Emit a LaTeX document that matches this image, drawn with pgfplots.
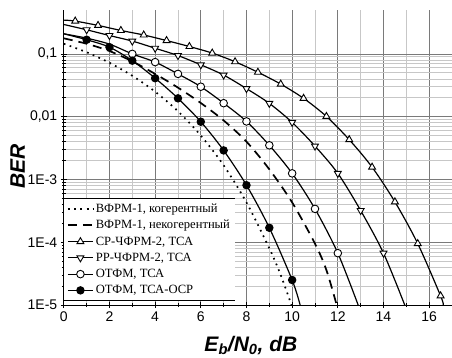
\documentclass[border=0pt]{standalone}
\usepackage{pgfplots}
\pgfplotsset{compat=1.18}
\usepackage{fontspec}
\setmainfont{Liberation Sans}
\newfontfamily\timesfont{Liberation Serif}
\begin{document}
\begin{tikzpicture}
\begin{axis}[
  scale only axis, width=388.2pt, height=295pt,
  xmin=0, xmax=17, ymode=log, ymin=1e-5, ymax=0.5,
  axis x line*=bottom, axis y line*=left,
  axis line style={-, black, line width=0.8pt},
  xtick={0,2,...,16}, minor x tick num=1,
  ytick={1e-5,1e-4,1e-3,1e-2,1e-1},
  yticklabels={1E-5,1E-4,1E-3,{0,01},{0,1}},
  grid=both,
  major grid style={black!52, line width=0.7pt},
  minor grid style={black!22, line width=0.7pt},
  tick style={black, line width=0.7pt},
  tick align=center,
  major tick length=6pt, minor tick length=4pt,
  ticklabel style={font=\fontsize{14}{16}\selectfont},
  /pgf/number format/assume math mode=true,
  xlabel={\textbf{\textit{E\textsubscript{b}/N\textsubscript{0}, dB}}},
  ylabel={\textbf{\textit{BER}}},
  xlabel style={font=\fontsize{21}{24}\selectfont, at={(rel axis cs:0.482,-0.156)}, anchor=base},
  ylabel style={font=\fontsize{21}{24}\selectfont, at={(rel axis cs:-0.119,0.47)}, anchor=center},
  legend style={at={(rel axis cs:0.0015,0.017)}, anchor=south west,
    font=\fontsize{12.6}{13}\selectfont\timesfont, draw=black, double, double distance=0.8pt, line width=0.4pt,
    fill=white, inner sep=2.5pt, row sep=2.4pt},
  legend cell align=left,
  legend image code/.code={\draw[mark repeat=2, mark phase=2, #1, mark indices={2}]
     plot coordinates {(0pt,0pt) (12.5pt,0pt) (25pt,0pt)};},
  every axis plot/.append style={line width=1.2pt, black},
]
% dotted: VFRM-1 coherent
\addplot[smooth, line width=1.7pt, dash pattern=on 1.7pt off 4.5pt] coordinates {
(0,0.1448) (1,0.1063) (2,0.0722) (3,0.0448) (4,0.0250) (5,0.0122) (6,0.0050)
(7,0.00168) (8,4.3e-4) (9,8.0e-5) (9.5,3.0e-5) (9.97,1e-5)};
\addlegendentry{ВФРМ-1, когерентный}
% dashed: VFRM-1 noncoherent
\addplot[smooth, line width=1.7pt, dash pattern=on 9pt off 6pt] coordinates {
(0,0.177) (1,0.145) (2,0.111) (3,0.076) (4,0.048) (5,0.029) (6,0.0165)
(7,0.0087) (8,0.0040) (9,0.00145) (10,4.3e-4) (11,9.5e-5) (11.5,3.6e-5) (11.95,1e-5)};
\addlegendentry{ВФРМ-1, некогерентный}
% triangle up: SR-ChFRM-2
\addplot[smooth, mark=triangle*, mark size=4pt, mark options={solid, fill=white, line width=0.9pt},
  mark indices={2,3,4,5,6,7,8,9,10,11,12,13,14,15,16,17,18}] coordinates {
(0,0.345) (0.5,0.333) (1.5,0.284) (2.5,0.236) (3.5,0.200) (4.5,0.163) (5.5,0.131)
(6.5,0.103) (7.5,0.075) (8.5,0.051) (9.5,0.033) (10.5,0.0196) (11.5,0.0101)
(12.5,0.0043) (13.5,0.00157) (14.5,4.4e-4) (15.5,9.5e-5) (16.5,1.4e-5) (16.62,1e-5)};
\addlegendentry{СР-ЧФРМ-2, ТСА}
% triangle down: RR-ChFRM-2
\addplot[smooth, mark=triangle*, mark size=4pt, mark options={solid, fill=white, rotate=180, line width=0.9pt},
  mark indices={2,3,4,5,6,7,8,9,10,11,12,13,14,15}] coordinates {
(0,0.294) (1,0.242) (2,0.196) (3,0.160) (4,0.123) (5,0.094) (6,0.067) (7,0.046)
(8,0.028) (9,0.0163) (10,0.0081) (11,0.0034) (12,0.00125) (13,3.2e-4) (14,6.7e-5) (14.93,1e-5)};
\addlegendentry{РР-ЧФРМ-2, ТСА}
% open circles: OTFM TSA
\addplot[smooth, mark=*, mark size=3.8pt, mark options={solid, fill=white, line width=0.9pt},
  mark indices={4,5,6,7,8,9,10,11,12,13}] coordinates {
(0,0.209) (1,0.178) (2,0.143) (3,0.100) (4,0.074) (5,0.048) (6,0.030) (7,0.0164)
(8,0.0084) (9,0.0035) (10,0.00125) (11,3.4e-4) (12,6.7e-5) (12.89,1e-5)};
\addlegendentry{ОТФМ, ТСА}
% filled circles: OTFM TSA-OSR
\addplot[smooth, mark=*, mark size=3.6pt, mark options={solid, fill=black},
  mark indices={2,3,4,5,6,7,8,9,10,11}] coordinates {
(0,0.209) (1,0.168) (2,0.128) (3,0.078) (4,0.041) (5,0.0196) (6,0.0083) (7,0.0029)
(8,8.1e-4) (9,1.7e-4) (10,2.5e-5) (10.35,1e-5)};
\addlegendentry{ОТФМ, ТСА-ОСР}
\end{axis}
\pgfresetboundingbox
\path ([shift={(-63.8pt,-52pt)}]current axis.south west) rectangle ([shift={(0pt,10pt)}]current axis.north east);
\end{tikzpicture}
\end{document}
